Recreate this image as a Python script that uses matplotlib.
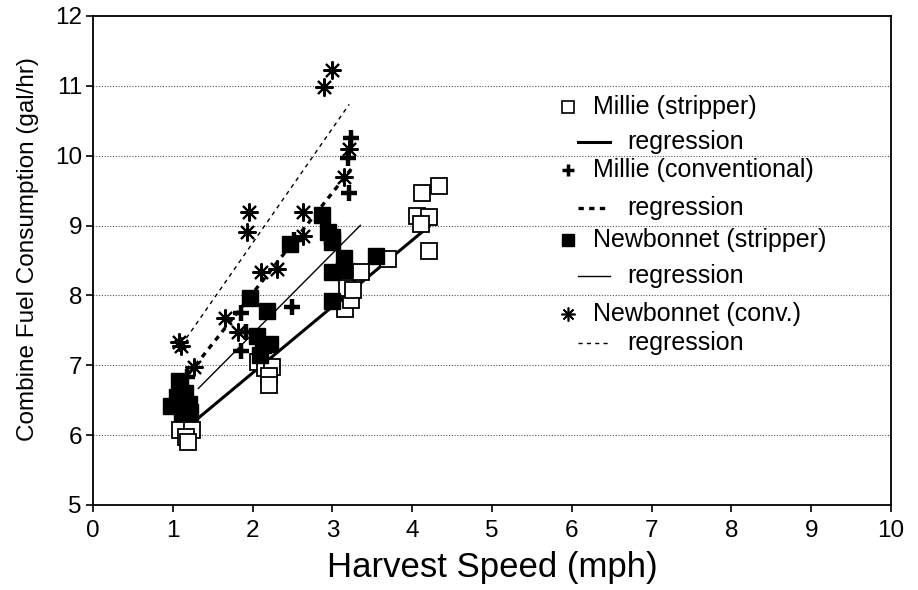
import numpy as np
import matplotlib
matplotlib.use('Agg')
import matplotlib.pyplot as plt

plt.rcParams['font.family'] = ['Liberation Sans', 'DejaVu Sans']

# Millie (stripper) - open squares
ms_x = [1.09, 1.24, 1.17, 1.19, 2.07, 2.16, 2.24, 2.20, 2.20,
        3.16, 3.23, 3.18, 3.26, 3.36, 3.70, 4.06, 4.21, 4.11, 4.21, 4.12, 4.33]
ms_y = [6.08, 6.08, 5.97, 5.90, 7.05, 6.96, 6.98, 6.84, 6.72,
        7.80, 7.93, 8.10, 8.08, 8.33, 8.52, 9.14, 9.12, 9.02, 8.64, 9.47, 9.56]

# Millie (conventional) - plus
mc_x = [1.18, 1.86, 1.92, 1.86, 2.49, 2.52, 3.21, 3.20, 3.23]
mc_y = [6.83, 7.20, 7.48, 7.75, 7.84, 8.80, 9.47, 9.96, 10.26]

# Newbonnet (stripper) - filled squares
ns_x = [0.98, 1.05, 1.15, 1.20, 1.12, 1.22, 1.08, 1.97, 2.18, 2.05, 2.13, 2.09, 2.22,
        2.47, 2.87, 2.95, 3.00, 3.00, 3.14, 3.00, 3.14, 3.55, 3.00]
ns_y = [6.42, 6.55, 6.60, 6.45, 6.32, 6.33, 6.77, 7.97, 7.77, 7.42, 7.29, 7.15, 7.30,
        8.73, 9.15, 8.91, 8.84, 8.76, 8.53, 8.34, 8.36, 8.57, 7.92]

# Newbonnet (conv.) - asterisks
nc_x = [1.08, 1.10, 1.27, 1.65, 1.82, 1.93, 1.96, 2.11, 2.30, 2.63, 2.63, 2.90, 2.99, 3.15, 3.21]
nc_y = [7.33, 7.27, 6.98, 7.68, 7.48, 8.91, 9.20, 8.34, 8.38, 9.20, 8.85, 10.99, 11.22, 9.70, 10.09]

# regression lines: slope, intercept, x range
reg_slope = [0.95, 1.44, 1.15, 1.64]
reg_icpt = [4.99, 5.15, 5.15, 5.47]
reg_xmin = [1.20, 1.20, 1.32, 1.11]
reg_xmax = [4.21, 3.26, 3.35, 3.21]

labels = ['Millie (stripper)', 'Millie (conventional)', 'Newbonnet (stripper)', 'Newbonnet (conv.)']

fig = plt.figure(figsize=(9.18, 5.9), dpi=100)
ax = fig.add_axes([0.1013, 0.1441, 0.8693, 0.8288])

ax.set_xlim(0, 10)
ax.set_ylim(5, 12)
# dotted horizontal grid
for yv in range(6, 12):
    ax.axhline(yv, color='#555555', lw=0.8, ls=(0, (1, 1.5)), zorder=0)

star = (8, 2, 0)
ax.plot(ms_x, ms_y, marker='s', mfc='white', mec='black', mew=1.3, ms=11, ls='none', zorder=3)
ax.plot(mc_x, mc_y, marker='+', color='black', mew=3.2, ms=12, ls='none', zorder=3)
ax.plot(ns_x, ns_y, marker='s', mfc='black', mec='black', ms=11, ls='none', zorder=3)
ax.plot(nc_x, nc_y, marker=star, mec='black', mew=1.5, ms=13, ls='none', zorder=3)

reg_styles = [dict(lw=2.2, ls='-'),
              dict(lw=2.4, ls=(0, (1.6, 1.6))),
              dict(lw=1.0, ls='-'),
              dict(lw=1.0, ls=(0, (3, 3)))]
for i in range(4):
    xs = np.array([reg_xmin[i], reg_xmax[i]])
    ax.plot(xs, reg_icpt[i] + reg_slope[i] * xs, color='black', zorder=2, **reg_styles[i])

# legend drawn by hand to match the layout
name_y = [0.814, 0.685, 0.542, 0.391]
reg_y = [0.743, 0.608, 0.468, 0.331]
mk_styles = [dict(marker='s', mfc='white', mec='black', mew=1.2, ms=8),
             dict(marker='+', color='black', mew=2.5, ms=9),
             dict(marker='s', mfc='black', mec='black', ms=8),
             dict(marker=star, mec='black', mew=1.2, ms=10)]
for i in range(4):
    ax.plot([0.595], [name_y[i]], transform=ax.transAxes, ls='none', clip_on=False, **mk_styles[i])
    ax.text(0.627, name_y[i], labels[i], transform=ax.transAxes, va='center', ha='left', fontsize=18)
    ax.plot([0.608, 0.648], [reg_y[i], reg_y[i]], transform=ax.transAxes, color='black',
            clip_on=False, **reg_styles[i])
    ax.text(0.670, reg_y[i], 'regression', transform=ax.transAxes, va='center', ha='left', fontsize=18)

ax.set_xticks(range(0, 11))
ax.set_yticks(range(5, 13))
ax.tick_params(axis='both', direction='out', length=5, width=1.2, labelsize=17.5)
ax.tick_params(axis='x', pad=6)
ax.tick_params(axis='y', pad=3)
for s in ax.spines.values():
    s.set_linewidth(1.3)

ax.set_xlabel('Harvest Speed (mph)', fontsize=25, labelpad=6)
ax.set_ylabel('Combine Fuel Consumption (gal/hr)', fontsize=17.5)
ax.yaxis.set_label_coords(-0.068, 0.523)

plt.savefig('out.png', dpi=100)
